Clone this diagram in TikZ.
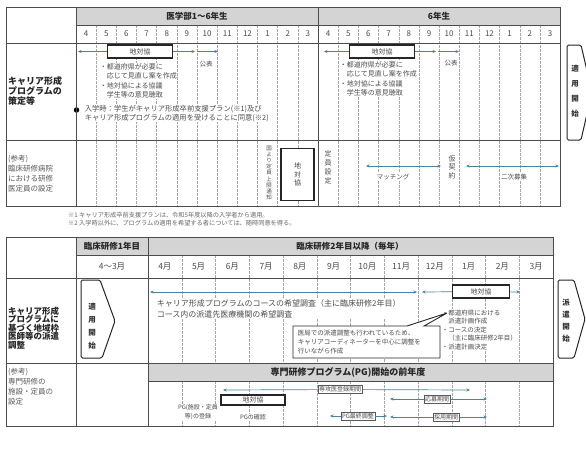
\documentclass[tikz,border=0pt]{standalone}
\usepackage{fontspec}
\setmainfont{Noto Sans CJK JP}
\usetikzlibrary{arrows.meta}
\definecolor{tlblue}{RGB}{72,132,158}
\definecolor{hdgray}{RGB}{212,212,212}
\tikzset{
  tframe/.style={draw=black!70, line width=0.9pt},
  mline/.style={draw=black!35, line width=0.45pt, dash pattern=on 2.5pt off 1.5pt},
  tl/.style={draw=tlblue, line width=0.7pt, -{Stealth[length=3.5pt,width=3pt]}},
  tlb/.style={draw=tlblue, line width=0.7pt, {Stealth[length=3.5pt,width=3pt]}-{Stealth[length=3.5pt,width=3pt]}},
  cbox/.style={draw=black!85, line width=1.1pt, fill=white, inner sep=0pt, text=black!75, font=\fontsize{7}{8.5}\selectfont, align=center},
  pbox/.style={draw=black!65, line width=0.6pt, fill=white, inner sep=1.2pt, text=black!70, font=\fontsize{6}{6}\selectfont},
  lbl/.style={fill=white, inner sep=0.6pt, text=black!70, align=left, font=\fontsize{7}{9.5}\selectfont},
  head/.style={anchor=west, inner sep=0pt, align=left, text=black!85, font=\bfseries\fontsize{9}{9.6}\selectfont},
  refhd/.style={anchor=west, inner sep=0pt, align=left, text=black!65, font=\fontsize{7.5}{10}\selectfont},
  colhd/.style={inner sep=0pt, text=black!85, font=\bfseries\fontsize{8.5}{9}\selectfont},
  mon/.style={inner sep=0pt, text=black!70, font=\fontsize{8}{8}\selectfont},
  vt/.style={fill=white, inner sep=0.5pt, align=center, text=black!70},
  fnote/.style={anchor=west, inner sep=0pt, text=black!60, font=\fontsize{6.2}{7}\selectfont},
  gobox/.style={line width=1pt, draw=black!85, fill=white, rounded corners=1.5pt},
}

\begin{document}
\begin{tikzpicture}[x=1pt,y=-1pt]
	\fill[white] (0,0) rectangle (586,459);
	\useasboundingbox (0,0) rectangle (586,459);

	%%%%% UPPER TABLE %%%%%
	\fill[hdgray] (76,7) rectangle (560,25);
	\foreach \i in {1,...,23}
		\draw[mline] ({76+20.17*\i},25) -- ({76+20.17*\i},206);

	\node[colhd] (gakubu) at (197,16) {医学部1～6年生};
	\node[colhd] (roku) at (439,16) {6年生};
	\foreach \m [count=\i from 0] in {4,5,6,7,8,9,10,11,12,1,2,3,4,5,6,7,8,9,10,11,12,1,2,3}
		\node[mon] at ({76+20.17*(\i+0.5)},34) {\m};

	\node[head] (h1) at (8,91) {キャリア形成\\プログラムの\\策定等};
	\node[refhd] (h2) at (8,174) {(参考)\\臨床研修病院\\における研修\\医定員の設定};

	% 1-5 year
	\node[cbox, minimum width=65pt, minimum height=13pt] (tk1) at (140,51.5) {地対協};
	\coordinate (a1) at (78,51.5);
	\coordinate (a2) at (195,51.5);
	\coordinate (a3) at (197,51.5);
	\coordinate (a4) at (218,51.5);
	\draw[tl] (tk1) -- (a1);
	\draw[tl] (tk1) -- (a2);
	\draw[tl] (a3) -- (a4);
	\node[lbl, font=\fontsize{6.5}{7}\selectfont] (koho1) at (206,64) {公表};
	\node[lbl, anchor=west] (sakusei1) at (99,81) {・都道府県が必要に\\　応じて見直し案を作成\\・地対協による協議\\　学生等の意見聴取};

	% 6 year
	\node[cbox, minimum width=65pt, minimum height=13pt] (tk2) at (382,51.5) {地対協};
	\coordinate (a5) at (324,51.5);
	\coordinate (a6) at (436,51.5);
	\coordinate (a7) at (438,51.5);
	\coordinate (a8) at (459,51.5);
	\draw[tl] (tk2) -- (a5);
	\draw[tl] (tk2) -- (a6);
	\draw[tl] (a7) -- (a8);
	\node[lbl, font=\fontsize{6.5}{7}\selectfont] (koho2) at (451,63) {公表};
	\node[lbl, anchor=west] (sakusei2) at (339,79) {・都道府県が必要に\\　応じて見直し案を作成\\・地対協による協議\\　学生等の意見聴取};

	\node[circle, fill=black, inner sep=0pt, minimum size=5.5pt] (dot) at (76.5,110) {};
	\node[lbl, anchor=west, font=\fontsize{7.3}{9}\selectfont] (doi) at (84,113.5) {入学時：学生がキャリア形成卒前支援プラン(※1)及び\\キャリア形成プログラムの適用を受けることに同意(※2)};

	% reference row
	\node[vt, font=\fontsize{5.5}{6.2}\selectfont] (tsuchi) at (269,173) {国\\よ\\り\\定\\員\\上\\限\\通\\知};
	\node[cbox, minimum width=33pt, minimum height=52pt] (tk3) at (297.5,174.5) {地\\対\\協};
	\node[vt, font=\fontsize{7}{9}\selectfont] (teiin) at (328,167) {定\\員\\設\\定};
	\coordinate (m1) at (366,166);
	\coordinate (m2) at (441,166);
	\draw[tlb] (m1) -- (m2);
	\node[lbl, font=\fontsize{6.5}{7}\selectfont] (match) at (393,177) {マッチング};
	\node[vt, font=\fontsize{7}{8.5}\selectfont] (kari) at (452,167) {仮\\契\\約};
	\coordinate (m3) at (466,166);
	\coordinate (m4) at (559,166);
	\draw[tlb] (m3) -- (m4);
	\node[lbl, font=\fontsize{6.5}{7}\selectfont] (niji) at (514,177) {二次募集};

	\draw[tframe] (6,7) rectangle (560,206);
	\draw[tframe] (76,7) -- (76,206);
	\draw[tframe] (76,25) -- (560,25);
	\draw[tframe] (6,43) -- (560,43);
	\draw[tframe] (6,140) -- (560,140);
	\draw[tframe] (318,7) -- (318,206);

	\draw[gobox] (567,45) -- (581,45) -- (592,92) -- (581,140) -- (567,140) -- cycle;
	\node[inner sep=0pt, align=center, text=black!80, font=\bfseries\fontsize{7.5}{15}\selectfont] (tekiyo1) at (575,91) {適\\用\\開\\始};

	\node[fnote] (fn1) at (68,215) {※1 キャリア形成卒前支援プランは、令和5年度以降の入学者から適用。};
	\node[fnote] (fn2) at (68,223) {※2 入学時以外に、プログラムの適用を希望する者については、随時同意を得る。};

	%%%%% LOWER TABLE %%%%%
	\fill[hdgray] (76,237) rectangle (553,255);
	\fill[hdgray] (148,363) rectangle (553,381);
	\foreach \i in {1,...,11} {
		\draw[mline] ({148+33.75*\i},255) -- ({148+33.75*\i},363);
		\draw[mline] ({148+33.75*\i},381) -- ({148+33.75*\i},426);
	}

	\node[colhd] (nen1) at (112,246) {臨床研修1年目};
	\node[colhd] (nen2) at (350,246) {臨床研修2年目以降（毎年）};
	\node[mon, font=\fontsize{8.5}{9}\selectfont] at (112,266.5) {4～3月};
	\foreach \m [count=\i from 0] in {4月,5月,6月,7月,8月,9月,10月,11月,12月,1月,2月,3月}
		\node[mon, font=\fontsize{8.5}{9}\selectfont] at ({148+33.75*(\i+0.5)},266.5) {\m};

	\node[head, font=\bfseries\fontsize{8.5}{8.5}\selectfont] (h3) at (8,328) {キャリア形成\\プログラムに\\基づく地域枠\\医師等の派遣\\調整};
	\node[refhd] (h4) at (8,387) {(参考)\\専門研修の\\施設・定員の\\設定};

	\draw[gobox] (81,280) -- (100,280) -- (115,321) -- (102,358) -- (81,358) -- cycle;
	\node[inner sep=0pt, align=center, text=black!80, font=\bfseries\fontsize{7.5}{13}\selectfont] (tekiyo2) at (92,326) {適\\用\\開\\始};

	% course survey
	\coordinate (b1) at (150,292);
	\coordinate (b2) at (417,292);
	\draw[tlb] (b1) -- (b2);
	\node[lbl, anchor=west, font=\fontsize{8}{11.5}\selectfont] (kibo) at (156,309) {キャリア形成プログラムのコースの希望調査（主に臨床研修2年目）\\コース内の派遣先医療機関の希望調査};
	\node[cbox, minimum width=57pt, minimum height=13pt] (tk4) at (481,291.5) {地対協};
	\coordinate (b3) at (422,292);
	\coordinate (b4) at (520,292);
	\draw[tl] (tk4) -- (b3);
	\draw[tl] (tk4) -- (b4);
	\node[lbl, anchor=west, font=\fontsize{6.5}{8.5}\selectfont] (haken) at (441,330) {・都道府県における\\　派遣計画作成\\・コースの決定\\　（主に臨床研修2年目）\\・派遣計画決定};

	\draw[line width=0.9pt, draw=black!85, fill=white] (293,326) -- (407,326) -- (447,313) -- (424,326) -- (440,326) -- (440,358) -- (293,358) -- cycle;
	\node[lbl, anchor=west, font=\fontsize{6.5}{9}\selectfont] (kyoku) at (297,342) {医局での派遣調整も行われているため、\\キャリアコーディネーターを中心に調整を\\行いながら作成};

	\draw[gobox] (558,280) -- (574,280) -- (585,319) -- (574,358) -- (558,358) -- cycle;
	\node[inner sep=0pt, align=center, text=black!80, font=\bfseries\fontsize{7.5}{12}\selectfont] (hakenkaishi) at (566,321) {派\\遣\\開\\始};

	% specialist programme
	\node[colhd, font=\bfseries\fontsize{9}{9}\selectfont] (senmon) at (348,372) {専門研修プログラム(PG)開始の前年度};
	\node[pbox] (sk) at (340,389.5) {専攻医登録期間};
	\coordinate (c1) at (223,390);
	\coordinate (c2) at (470,390);
	\draw[tl] (sk) -- (c1);
	\draw[tl] (sk) -- (c2);
	\node[cbox, minimum width=64pt, minimum height=10pt] (tk5) at (253,400) {地対協};
	\node[lbl, font=\fontsize{6}{9}\selectfont, align=center] (toroku) at (198,412.5) {PG(施設・定員\\等)の登録};
	\node[lbl, font=\fontsize{6}{7}\selectfont] (kakunin) at (253,417) {PGの確認};

	\node[pbox] (ob) at (437,399) {応募期間};
	\coordinate (c3) at (390,399);
	\coordinate (c4) at (487,399);
	\draw[tl] (ob) -- (c3);
	\draw[tl] (ob) -- (c4);

	\node[pbox] (pg) at (358,416) {PG最終調整};
	\coordinate (c5) at (330,416);
	\coordinate (c6) at (387,416);
	\draw[tl] (pg) -- (c5);
	\draw[tl] (pg) -- (c6);

	\node[pbox] (sy) at (446,417) {採用期間};
	\coordinate (c7) at (390,417);
	\coordinate (c8) at (487,417);
	\draw[tl] (sy) -- (c7);
	\draw[tl] (sy) -- (c8);

	\draw[tframe] (6,237) rectangle (553,426);
	\draw[tframe] (76,237) -- (76,426);
	\draw[tframe] (148,237) -- (148,426);
	\draw[tframe] (76,255) -- (553,255);
	\draw[tframe] (6,278) -- (553,278);
	\draw[tframe] (6,363) -- (553,363);
	\draw[tframe] (148,381) -- (553,381);
\end{tikzpicture}
\end{document}
